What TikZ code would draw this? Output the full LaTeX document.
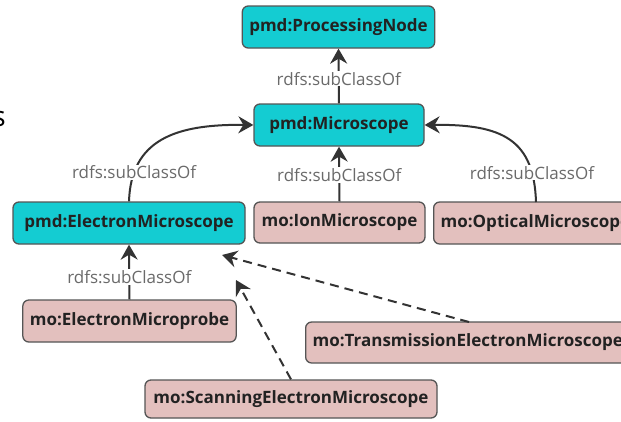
\documentclass[tikz,border=0pt]{standalone}
\usepackage{fontspec}
\setmainfont{Open Sans}
\usetikzlibrary{arrows.meta,calc}
\definecolor{cyanfill}{HTML}{14CCD2}
\definecolor{pinkfill}{HTML}{E3C0BE}
\definecolor{boxborder}{HTML}{555555}
\definecolor{edgecol}{HTML}{333333}
\definecolor{labcol}{HTML}{6A6A6A}
\definecolor{txtcol}{HTML}{222222}
\tikzset{
  box/.style={draw=boxborder, line width=1.3pt, rounded corners=6pt, inner xsep=7pt, inner ysep=0pt,
    text=txtcol, font=\fontsize{17}{20}\selectfont\bfseries, align=center},
  cbox/.style={box, fill=cyanfill},
  pbox/.style={box, fill=pinkfill},
  lab/.style={fill=white, text=labcol, font=\fontsize{17}{20}\selectfont, inner sep=1pt},
  sub/.style={draw=edgecol, line width=2pt, -{Stealth[length=15pt,width=17pt,inset=5pt]}},
  subd/.style={sub, dash pattern=on 9pt off 6pt},
}
\begin{document}
\begin{tikzpicture}[x=1pt,y=-1pt]
\useasboundingbox (0,0) rectangle (621,421);
\fill[white] (0,0) rectangle (621,421);
\node[anchor=east, inner sep=0pt, font=\fontsize{28}{30}\selectfont, text=black] (frag) at (6,119) {s};
\node[cbox, minimum width=191pt, minimum height=42pt] (pn) at (338.5,27) {pmd:ProcessingNode};
\node[cbox, minimum width=170pt, minimum height=42pt] (mic) at (339,125) {pmd:Microscope};
\node[cbox, minimum width=232pt, minimum height=42pt] (em) at (129,223) {pmd:ElectronMicroscope};
\node[pbox, minimum width=171pt, minimum height=41pt] (ion) at (339.5,222.5) {mo:IonMicroscope};
\node[pbox, minimum height=42pt, anchor=west] (opt) at (433,223) {mo:OpticalMicroscope};
\node[pbox, minimum width=211pt, minimum height=42pt] (emp) at (129.5,321) {mo:ElectronMicroprobe};
\node[pbox, minimum height=41pt, anchor=west] (tem) at (305,342.5) {mo:TransmissionElectronMicroscope};
\node[pbox, minimum width=292pt, minimum height=38pt] (sem) at (291,399) {mo:ScanningElectronMicroscope};
\coordinate (optTop) at (536,202);
\coordinate (temTop) at (469,322);
\coordinate (temTip) at (222,255);
\coordinate (semTip) at (236,280);
\draw[sub] (mic.north) -- node[lab, pos=0.45] {rdfs:subClassOf} (pn.south);
\draw[sub] (ion.north) -- node[lab, pos=0.48] {rdfs:subClassOf} (mic.south);
\draw[sub] (emp.north) -- node[lab, pos=0.41] {rdfs:subClassOf} (em.south);
\draw[sub] (em.north) .. controls (131,140) and (175,124) .. node[lab, pos=0.18] {rdfs:subClassOf} (mic.west);
\draw[sub] (optTop) .. controls (534,140) and (503,124) .. node[lab, pos=0.18] {rdfs:subClassOf} (mic.east);
\draw[subd] (temTop) -- (temTip);
\draw[subd] (sem.north) -- (semTip);
\end{tikzpicture}
\end{document}
